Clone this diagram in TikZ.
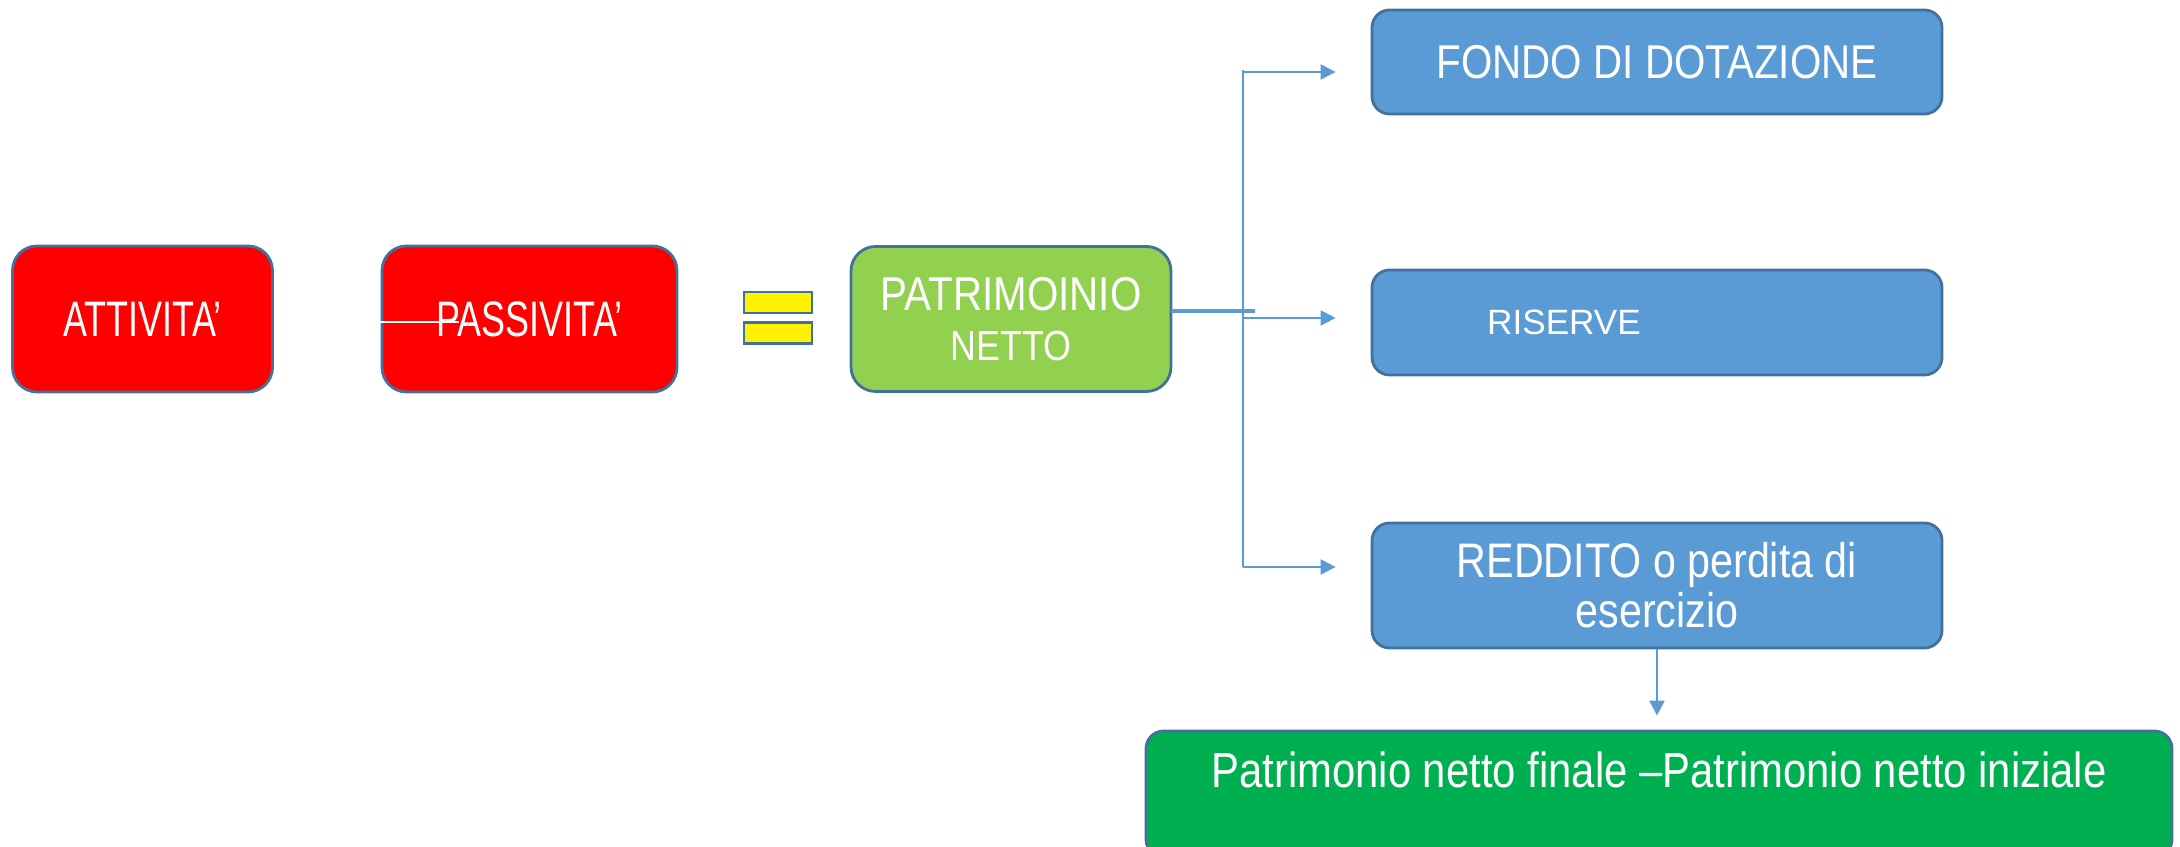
\documentclass[tikz,border=0pt]{standalone}
\usepackage{fontspec}
\setmainfont{Liberation Sans}
\newfontfamily\narrowfont[FakeStretch=0.85]{Liberation Sans}
\newfontfamily\tightfont[FakeStretch=0.72]{Liberation Sans}
\usepackage{xcolor}
\usepackage{tikz}
\usetikzlibrary{arrows.meta, positioning}
\definecolor{boxblue}{HTML}{5B9BD5}
\definecolor{edgeblue}{HTML}{41719C}
\definecolor{linkblue}{HTML}{5B9BD5}
\definecolor{pnGreen}{HTML}{92D050}
\definecolor{finGreen}{HTML}{00B050}

\begin{document}
\begin{tikzpicture}[
  box/.style={rectangle, rounded corners=5pt, draw=edgeblue, line width=0.8pt,
              text=white, align=center, inner sep=0pt},
  redbox/.style={box, rounded corners=7pt, fill=red, minimum height=1.46cm,
                 font=\tightfont\fontsize{14.2}{16}\selectfont},
  bluebox/.style={box, fill=boxblue, minimum width=5.7cm},
  bar/.style={rectangle, draw=edgeblue, line width=0.8pt, fill=yellow,
              minimum width=0.68cm, minimum height=0.21cm, inner sep=0pt},
  arr/.style={-{Triangle[length=0.15cm,width=0.15cm]}, draw=linkblue, line width=0.6pt},
  link/.style={draw=linkblue}
]
\clip (0,0) rectangle (21.8,8.47);

% Row y positions
\def\yTop{7.85}   % fondo
\def\yMid{5.28}   % equation row
\def\yLow{2.615}  % reddito
\def\yBot{0.53}   % differenza

% Equation row
\node[redbox, minimum width=2.6cm]  (att) at (1.425,\yMid) {ATTIVITA’};
\node[redbox, minimum width=2.95cm] (pas) at (5.295,\yMid) {PASSIVITA’};
\node[bar] (barA) at (7.78,5.445) {};
\node[bar] (barB) at (7.78,5.14) {};
\node[box, rounded corners=7pt, fill=pnGreen, minimum width=3.2cm, minimum height=1.45cm,
      font=\narrowfont\fontsize{13.5}{14.2}\selectfont] (pn) at (10.11,\yMid)
      {PATRIMOINIO\\{\fontsize{12}{14.2}\selectfont NETTO}};

% Components of the net worth
\node[bluebox, minimum height=1.04cm, font=\narrowfont\fontsize{13.5}{16}\selectfont]
      (fondo) at (16.57,\yTop) {FONDO DI DOTAZIONE};
\node[bluebox, minimum height=1.05cm, font=\fontsize{10}{12}\selectfont]
      (ris) at (16.57,5.245) {RISERVE\hspace{1.86cm}};
\node[bluebox, minimum height=1.25cm, font=\narrowfont\fontsize{13.8}{14.2}\selectfont]
      (red) at (16.57,\yLow) {REDDITO o perdita di\\esercizio};
\node[box, fill=finGreen, minimum width=10.26cm, minimum height=1.26cm,
      text height=0.4cm, text depth=0.52cm,
      font=\narrowfont\fontsize{14}{16}\selectfont] (fin) at (16.59,\yBot)
      {Patrimonio netto finale –Patrimonio netto iniziale};

% Branch points
\coordinate (pnOut) at (11.71,5.36);
\coordinate (hubR)  at (12.55,5.36);
\coordinate (jTop)  at (12.43,7.77);
\coordinate (jA)    at (12.43,7.75);
\coordinate (jB)    at (12.43,5.29);
\coordinate (jC)    at (12.43,2.80);
\coordinate (wEnd)  at (4.59,5.25);

% Connectors
\draw[white, line width=0.6pt] (att.east |- wEnd) -- (wEnd);
\draw[link, line width=1pt] (pnOut) -- (hubR);
\draw[link, line width=0.4pt] (jTop) -- (jC);
\draw[arr, shorten >=0.35cm] (jA) -- (fondo.west |- jA);
\draw[arr, shorten >=0.35cm] (jB) -- (ris.west |- jB);
\draw[arr, shorten >=0.35cm] (jC) -- (red.west |- jC);
\draw[arr, shorten >=0.14cm] (red.south) -- (red.south |- fin.north);
\end{tikzpicture}
\end{document}
